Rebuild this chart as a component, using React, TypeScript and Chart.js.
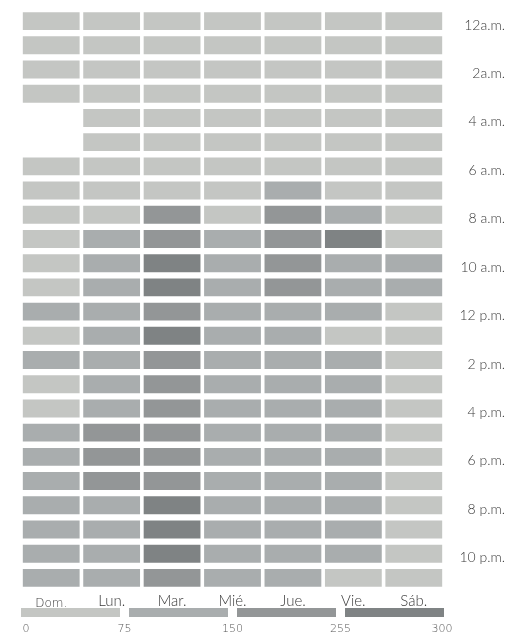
import React, { useEffect, useRef } from "react";
import { Chart, registerables } from "chart.js";

Chart.register(...registerables);

const DAYS = ["Dom.", "Lun.", "Mar.", "Mié.", "Jue.", "Vie.", "Sáb."];

const HOURS = [
  "12a.m.", "1 a.m.", "2a.m.", "3 a.m.", "4 a.m.", "5 a.m.",
  "6 a.m.", "7 a.m.", "8 a.m.", "9 a.m.", "10 a.m.", "11 a.m.",
  "12 p.m.", "1 p.m.", "2 p.m.", "3 p.m.", "4 p.m.", "5 p.m.",
  "6 p.m.", "7 p.m.", "8 p.m.", "9 p.m.", "10 p.m.", "11 p.m.",
];

// values per hour (12 a.m. .. 11 p.m.) for each day
const DOM = [45, 38, 30, 24, null, null, 28, 42, 55, 62, 66, 70, 92, 72, 88, 70, 68, 96, 104, 110, 112, 108, 98, 84];
const LUN = [35, 28, 20, 15, 12, 18, 40, 62, 72, 118, 125, 130, 128, 120, 122, 126, 140, 168, 172, 160, 138, 130, 115, 95];
const MAR = [38, 30, 22, 18, 14, 20, 45, 70, 205, 240, 268, 275, 250, 262, 235, 225, 230, 228, 232, 245, 270, 282, 265, 210];
const MIE = [36, 27, 20, 15, 13, 19, 42, 66, 73, 105, 118, 122, 120, 116, 112, 118, 124, 130, 134, 132, 128, 124, 112, 92];
const JUE = [34, 26, 19, 14, 12, 18, 44, 95, 185, 210, 200, 190, 140, 130, 125, 128, 132, 138, 140, 135, 130, 126, 118, 100];
const VIE = [40, 32, 24, 18, 14, 20, 46, 68, 140, 258, 145, 130, 110, 70, 98, 104, 112, 118, 125, 120, 116, 108, 96, 72];
const SAB = [60, 55, 48, 40, 32, 28, 36, 50, 60, 68, 90, 85, 72, 66, 64, 62, 65, 68, 70, 72, 70, 66, 62, 58];

const SERIES = [DOM, LUN, MAR, MIE, JUE, VIE, SAB];

const THRESHOLDS = [0, 75, 150, 255, 300];
const LEVEL_COLORS = ["#c4c6c3", "#a9adae", "#939697", "#7f8384"];

const FONT = "Lato, 'Open Sans', sans-serif";
const WIDE_FONT = "'DejaVu Sans', sans-serif";
const TEXT_COLOR = "#3a3a3a";

function colorFor(v: number | null): string {
  if (v == null) return "rgba(0,0,0,0)";
  for (let i = 0; i < LEVEL_COLORS.length; i++) {
    if (v < THRESHOLDS[i + 1]) return LEVEL_COLORS[i];
  }
  return LEVEL_COLORS[LEVEL_COLORS.length - 1];
}

const legendPlugin = {
  id: "binLegend",
  afterDraw(chart: any) {
    const { ctx, chartArea } = chart;
    const left = chartArea.left;
    const right = chartArea.right;
    const gap = 9;
    const n = LEVEL_COLORS.length;
    const w = (right - left - gap * (n - 1)) / n;
    const yBar = 608;
    const hBar = 9;
    ctx.save();
    for (let i = 0; i < n; i++) {
      ctx.fillStyle = LEVEL_COLORS[i];
      ctx.fillRect(left + i * (w + gap), yBar, w, hBar);
    }
    ctx.fillStyle = "#555";
    ctx.font = `200 11px ${WIDE_FONT}`;
    ctx.textBaseline = "middle";
    ctx.textAlign = "center";
    for (let i = 0; i < THRESHOLDS.length; i++) {
      let x: number;
      if (i === 0) x = left + 5;
      else if (i === THRESHOLDS.length - 1) x = right - 2;
      else x = left + i * (w + gap) - gap / 2;
      ctx.fillText(String(THRESHOLDS[i]), x, 629);
    }
    ctx.restore();
  },
};

export default function App() {
  const ref = useRef<HTMLCanvasElement | null>(null);

  useEffect(() => {
    if (!ref.current) return;
    const datasets = SERIES.map((vals, d) => ({
      label: DAYS[d],
      data: vals.map((v) => (v == null ? null : [d + 0.03, d + 0.97])),
      backgroundColor: vals.map((v) => colorFor(v)),
      borderWidth: 0,
      grouped: false,
      barPercentage: 0.74,
      categoryPercentage: 1,
      xAxisID: "x",
      yAxisID: "y",
    }));

    const chart = new Chart(ref.current, {
      type: "bar",
      data: { labels: HOURS, datasets: datasets as any },
      options: {
        indexAxis: "y",
        animation: false,
        responsive: false,
        devicePixelRatio: 1,
        layout: { padding: { top: 9, left: 21, right: 8, bottom: 31 } },
        plugins: { legend: { display: false }, tooltip: { enabled: false } },
        scales: {
          x: { type: "linear", min: 0, max: 7, display: false },
          xDays: {
            type: "category",
            axis: "x",
            labels: DAYS,
            position: "bottom",
            offset: true,
            grid: { display: false, drawTicks: false },
            border: { display: false },
            ticks: {
              color: TEXT_COLOR,
              padding: 2,
              font: (ctx: any) =>
                ctx.index === 0
                  ? { family: WIDE_FONT, size: 12, weight: "200", lineHeight: 2 }
                  : { family: FONT, size: 15, weight: "300", lineHeight: 1.2 },
            },
            afterFit: (s: any) => {
              s.height = 18;
              s.paddingLeft = 0;
              s.paddingRight = 0;
            },
          },
          y: {
            type: "category",
            position: "right",
            grid: { display: false, drawTicks: false },
            border: { display: false },
            ticks: {
              autoSkip: false,
              color: TEXT_COLOR,
              padding: 10,
              crossAlign: "far",
              labelOffset: 4,
              font: { family: FONT, size: 14, weight: "300" },
              callback: (_v: any, i: number) => (i % 2 === 0 ? HOURS[i] : ""),
            },
            afterFit: (s: any) => {
              s.width = 61;
              s.paddingTop = 0;
              s.paddingBottom = 0;
            },
          },
        },
      } as any,
      plugins: [legendPlugin],
    });
    return () => chart.destroy();
  }, []);

  return (
    <div style={{ position: "fixed", left: 0, top: 0, width: 513, height: 639, background: "#fff" }}>
      <canvas ref={ref} width={513} height={639} style={{ display: "block" }} />
    </div>
  );
}
